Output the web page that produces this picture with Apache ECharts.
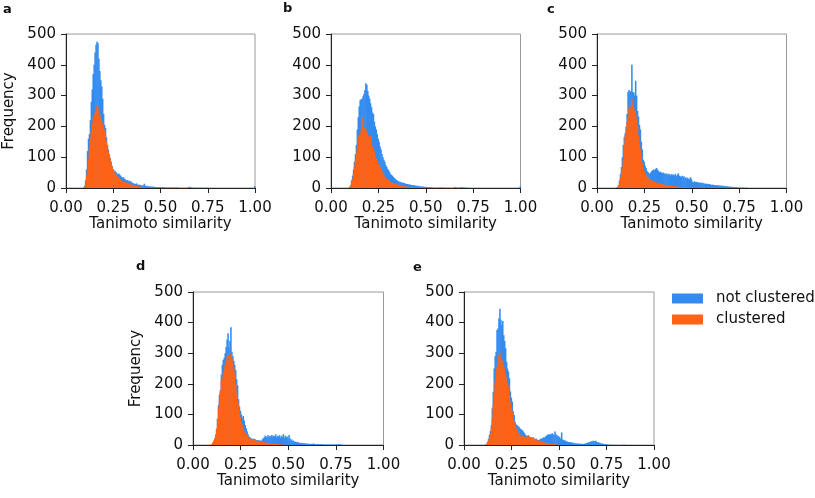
<!DOCTYPE html>
<html><head><meta charset="utf-8">
<script src="https://cdn.jsdelivr.net/npm/echarts@6/dist/echarts.min.js"></script>
<style>html,body{margin:0;padding:0;background:#fff}#chart{width:815px;height:498px}</style>
</head><body><div id="chart"></div>
<script>
// ---------- data ----------
const binStart = 0.09;      // left edge of first bin
const binWidth = 0.005;     // histogram bin width
const panelLabels = ['a', 'b', 'c', 'd', 'e'];
const seriesNames = ['not clustered', 'clustered'];
const xTickValues = [0, 0.25, 0.5, 0.75, 1];
const yTickValues = [0, 100, 200, 300, 400, 500];

const aNotClustered = [
  2, 8, 25, 60, 120, 160, 175, 220, 280, 320,
  370, 400, 440, 465, 475, 470, 420, 380, 350, 330,
  290, 240, 205, 195, 165, 140, 125, 110, 98, 85,
  72, 62, 58, 55, 52, 48, 45, 47, 43, 40,
  36, 33, 35, 30, 28, 24, 26, 22, 24, 20,
  22, 18, 16, 15, 14, 13, 15, 11, 10, 11,
  9, 8, 9, 7, 14, 7, 6, 7, 5, 5,
  6, 4, 4, 5, 3, 4, 3, 3, 2, 3,
  2, 3, 2, 2, 3, 2, 2, 1, 2, 1,
  2, 1, 1, 2, 1, 1, 1, 1, 2, 1,
  1, 1, 1, 1, 0, 1, 1, 0, 1, 1,
  1, 2, 4, 2, 1, 1, 0, 1, 1, 0,
  1, 1, 0, 1, 1, 0, 1, 0, 0, 1,
  0, 1
];
const aClustered = [
  0, 3, 15, 40, 60, 95, 130, 160, 185, 210,
  230, 238, 245, 255, 268, 262, 245, 238, 225, 215,
  208, 195, 185, 175, 150, 135, 120, 110, 95, 85,
  70, 60, 55, 48, 42, 40, 38, 33, 30, 28,
  25, 23, 22, 20, 18, 18, 16, 15, 14, 12,
  12, 10, 9, 9, 8, 7, 6, 6, 5, 5,
  4, 4, 3, 3, 3, 2, 2, 2, 1, 1,
  1, 1, 1, 1, 1, 0, 1, 0, 1
];
const bNotClustered = [
  1, 4, 10, 25, 40, 60, 85, 110, 140, 190,
  230, 265, 285, 288, 290, 298, 305, 318, 340, 335,
  315, 300, 290, 275, 262, 245, 240, 215, 200, 190,
  175, 160, 150, 135, 125, 110, 100, 92, 85, 75,
  68, 62, 58, 52, 46, 42, 40, 36, 32, 30,
  27, 25, 22, 21, 20, 19, 18, 16, 17, 15,
  14, 13, 13, 11, 12, 10, 10, 9, 10, 8,
  7, 8, 6, 7, 5, 6, 5, 4, 5, 4,
  3, 4, 3, 3, 2, 3, 2, 2, 2, 1,
  2, 1, 1, 1, 1, 2, 1, 1, 2, 1,
  1, 1, 1, 0, 1, 1, 0, 1, 1, 0,
  1, 1, 3, 1, 2, 1, 1, 2, 1, 3,
  1, 2, 1, 1, 0, 1, 1
];
const bClustered = [
  1, 3, 8, 18, 30, 45, 70, 90, 110, 130,
  165, 172, 175, 190, 230, 200, 188, 195, 190, 182,
  175, 165, 158, 170, 140, 135, 128, 115, 100, 95,
  88, 80, 74, 68, 63, 55, 47, 42, 36, 33,
  30, 27, 25, 22, 20, 17, 16, 15, 14, 13,
  12, 11, 10, 10, 9, 8, 8, 7, 6, 6,
  5, 5, 4, 4, 3, 3, 3, 2, 2, 1,
  1, 1, 1, 1, 1, 1, 1, 1, 1, 1,
  1, 1
];
const cNotClustered = [
  0, 0, 1, 3, 10, 25, 45, 68, 100, 140,
  165, 178, 200, 240, 312, 318, 310, 315, 400, 312,
  310, 300, 348, 300, 250, 232, 205, 190, 150, 125,
  92, 86, 72, 65, 55, 52, 48, 46, 50, 55,
  57, 60, 58, 62, 65, 60, 56, 52, 53, 50,
  48, 50, 46, 48, 45, 47, 42, 46, 44, 40,
  45, 42, 44, 40, 46, 38, 42, 48, 40, 38,
  36, 40, 35, 38, 32, 35, 30, 33, 28, 30,
  35, 28, 20, 18, 22, 19, 20, 18, 19, 16,
  18, 17, 16, 17, 14, 15, 14, 13, 14, 12,
  13, 11, 10, 11, 10, 9, 10, 9, 8, 9,
  8, 7, 8, 7, 6, 7, 6, 5, 6, 5,
  4, 5, 4, 3, 4, 3, 3, 2, 3, 2,
  2, 1, 2, 1, 1, 1, 1, 0, 1, 1
];
const cClustered = [
  0, 0, 1, 3, 8, 20, 35, 47, 65, 90,
  140, 170, 190, 215, 225, 262, 250, 265, 290, 272,
  260, 250, 242, 225, 200, 170, 145, 125, 100, 82,
  66, 55, 47, 42, 38, 34, 30, 28, 26, 24,
  23, 22, 21, 20, 18, 17, 16, 15, 14, 13,
  12, 12, 11, 10, 10, 9, 9, 8, 8, 7,
  7, 6, 6, 5, 5, 5, 4, 4, 4, 3,
  3, 3, 3, 2, 2, 2, 2, 2, 1, 1,
  1, 1, 1
];
const dNotClustered = [
  0, 1, 3, 8, 15, 25, 50, 85, 130, 165,
  180, 230, 262, 278, 285, 300, 320, 345, 365, 318,
  340, 385, 305, 290, 275, 262, 245, 215, 195, 150,
  125, 112, 100, 88, 95, 80, 65, 55, 45, 35,
  28, 25, 22, 20, 21, 18, 20, 17, 16, 15,
  16, 14, 15, 13, 18, 22, 25, 30, 24, 28,
  32, 25, 30, 27, 33, 26, 30, 28, 35, 25,
  30, 27, 32, 24, 30, 26, 35, 22, 30, 25,
  28, 20, 33, 22, 15, 18, 12, 14, 10, 11,
  9, 10, 8, 7, 6, 7, 6, 5, 6, 5,
  4, 5, 4, 3, 4, 3, 4, 3, 5, 3,
  2, 3, 2, 3, 2, 2, 3, 2, 1, 2,
  1, 2, 2, 1, 2, 1, 1, 2, 1, 1,
  1, 1, 2, 1, 2, 1, 2, 1
];
const dClustered = [
  1, 3, 8, 15, 22, 35, 54, 87, 120, 150,
  174, 212, 218, 232, 245, 262, 275, 288, 294, 272,
  285, 300, 283, 268, 255, 232, 200, 170, 150, 130,
  108, 90, 75, 65, 55, 45, 40, 36, 32, 28,
  24, 22, 20, 19, 18, 17, 16, 15, 14, 12,
  13, 11, 10, 9, 10, 8, 9, 8, 7, 7,
  6, 6, 5, 5, 4, 4, 4, 3, 3, 3,
  2, 2, 2, 2, 1, 1, 1, 1, 1
];
const eNotClustered = [
  0, 0, 0, 0, 1, 3, 10, 20, 33, 45,
  65, 120, 174, 250, 290, 305, 376, 381, 414, 445,
  409, 392, 405, 359, 340, 316, 272, 250, 240, 218,
  175, 155, 142, 110, 98, 76, 68, 65, 62, 60,
  55, 52, 49, 48, 42, 38, 33, 30, 30, 32,
  28, 26, 25, 23, 25, 21, 19, 21, 17, 17,
  16, 18, 20, 22, 22, 25, 24, 28, 30, 33,
  35, 33, 36, 34, 38, 35, 33, 44, 35, 32,
  30, 28, 25, 20, 41, 18, 16, 15, 14, 12,
  11, 10, 9, 9, 8, 8, 7, 6, 6, 5,
  5, 4, 5, 4, 4, 3, 4, 3, 4, 5,
  6, 7, 8, 9, 10, 12, 11, 14, 13, 12,
  14, 10, 9, 8, 7, 6, 5, 4, 4, 3,
  3, 2, 2, 1, 1, 1, 1, 0, 1, 0,
  0, 1, 0, 0, 0, 0, 0, 0, 1, 0,
  1
];
const eClustered = [
  0, 0, 0, 0, 1, 3, 8, 15, 22, 35,
  54, 87, 130, 170, 207, 240, 255, 267, 294, 300,
  283, 278, 272, 255, 250, 229, 218, 200, 191, 163,
  140, 120, 109, 87, 75, 65, 55, 49, 42, 38,
  34, 30, 28, 30, 27, 26, 27, 25, 28, 30,
  26, 25, 24, 22, 24, 20, 18, 20, 15, 14,
  15, 13, 12, 10, 13, 9, 8, 7, 6, 5,
  5, 4, 4, 3, 3, 3, 2, 2, 2, 1,
  1, 1, 1
];
// counts in the last bin (similarity ~1.0), not clustered, per panel
const identicalNotClustered = [6, 6, 0, 0, 0];

const notClusteredByPanel = [aNotClustered, bNotClustered, cNotClustered, dNotClustered, eNotClustered];
const clusteredByPanel = [aClustered, bClustered, cClustered, dClustered, eClustered];

// ---------- layout / style ----------
const FONT = 'DejaVu Sans';
const FS = 15;
const BLUE = '#338bef';
const ORANGE = '#fe6318';
const gridBoxes = [
  { left: 66, top: 34, width: 189, height: 154 },
  { left: 331, top: 34, width: 189.5, height: 154 },
  { left: 597, top: 34, width: 189.5, height: 154 },
  { left: 193, top: 292, width: 190.5, height: 153 },
  { left: 464, top: 292, width: 190, height: 153 }
];
const labelPos = [
  { left: 3, top: 3 }, { left: 283, top: 2 }, { left: 547, top: 3 },
  { left: 136, top: 260 }, { left: 413, top: 261 }
];
const showYName = [true, false, false, true, false];

function binsToData(counts, extraLast) {
  const out = [];
  counts.forEach((c, i) => {
    if (c > 0) {
      const x0 = +(binStart + i * binWidth).toFixed(4);
      out.push([x0, +(x0 + binWidth).toFixed(4), c]);
    }
  });
  if (extraLast) out.push([+(1 - binWidth).toFixed(4), 1, extraLast]);
  return out;
}

function renderBar(params, api) {
  const p0 = api.coord([api.value(0), api.value(2)]);
  const p1 = api.coord([api.value(1), 0]);
  return {
    type: 'rect',
    shape: { x: p0[0], y: p0[1], width: p1[0] - p0[0] + 0.6, height: p1[1] - p0[1] },
    style: { fill: api.visual('color') }
  };
}

const axisColor = '#222';
const grid = gridBoxes.map(g => Object.assign({ show: true, borderColor: '#9a9a9a', borderWidth: 1, backgroundColor: 'transparent' }, g));
const xAxis = gridBoxes.map((g, i) => ({
  type: 'value', gridIndex: i, min: xTickValues[0], max: xTickValues[xTickValues.length - 1],
  interval: xTickValues[1] - xTickValues[0],
  axisLine: { show: true, onZero: false, lineStyle: { color: axisColor, width: 1 } },
  axisTick: { show: true, inside: false, length: 5, lineStyle: { color: axisColor, width: 1 } },
  axisLabel: { show: true, showMinLabel: true, showMaxLabel: true, margin: 13, fontSize: FS, fontFamily: FONT, color: '#111',
    formatter: v => v.toFixed(2) },
  splitLine: { show: false },
  name: 'Tanimoto similarity', nameLocation: 'middle', nameGap: 29,
  nameTextStyle: { fontSize: FS, fontFamily: FONT, color: '#111' }
}));
const yAxis = gridBoxes.map((g, i) => ({
  type: 'value', gridIndex: i, min: yTickValues[0], max: yTickValues[yTickValues.length - 1],
  interval: yTickValues[1] - yTickValues[0],
  axisLine: { show: true, onZero: false, lineStyle: { color: axisColor, width: 1 } },
  axisTick: { show: true, inside: false, length: 5, lineStyle: { color: axisColor, width: 1 } },
  axisLabel: { show: true, showMinLabel: true, showMaxLabel: true, margin: 10, fontSize: FS, fontFamily: FONT, color: '#111' },
  splitLine: { show: false },
  name: showYName[i] ? 'Frequency' : '', nameLocation: 'middle', nameGap: 49,
  nameTextStyle: { fontSize: FS, fontFamily: FONT, color: '#111' }
}));

const series = [];
gridBoxes.forEach((g, i) => {
  series.push({
    type: 'custom', name: seriesNames[0], xAxisIndex: i, yAxisIndex: i,
    itemStyle: { color: BLUE }, renderItem: renderBar,
    encode: { x: [0, 1], y: 2 }, data: binsToData(notClusteredByPanel[i], identicalNotClustered[i]), z: 2
  });
  series.push({
    type: 'custom', name: seriesNames[1], xAxisIndex: i, yAxisIndex: i,
    itemStyle: { color: ORANGE }, renderItem: renderBar,
    encode: { x: [0, 1], y: 2 }, data: binsToData(clusteredByPanel[i], 0), z: 3
  });
});

const title = panelLabels.map((t, i) => ({
  text: t, left: labelPos[i].left, top: labelPos[i].top, padding: 0,
  textStyle: { fontSize: 13, fontWeight: 'bold', fontFamily: FONT, color: '#111' }
}));

const chart = echarts.init(document.getElementById('chart'), null, { renderer: 'canvas' });
chart.setOption({
  animation: false,
  backgroundColor: '#fff',
  title,
  legend: {
    data: seriesNames, orient: 'vertical', left: 672, top: 291, padding: 0,
    itemWidth: 31, itemHeight: 10, itemGap: 6, icon: 'rect',
    textStyle: { fontSize: FS, fontFamily: FONT, color: '#111', padding: [0, 0, 0, 8] }
  },
  grid, xAxis, yAxis, series
});
</script></body></html>
